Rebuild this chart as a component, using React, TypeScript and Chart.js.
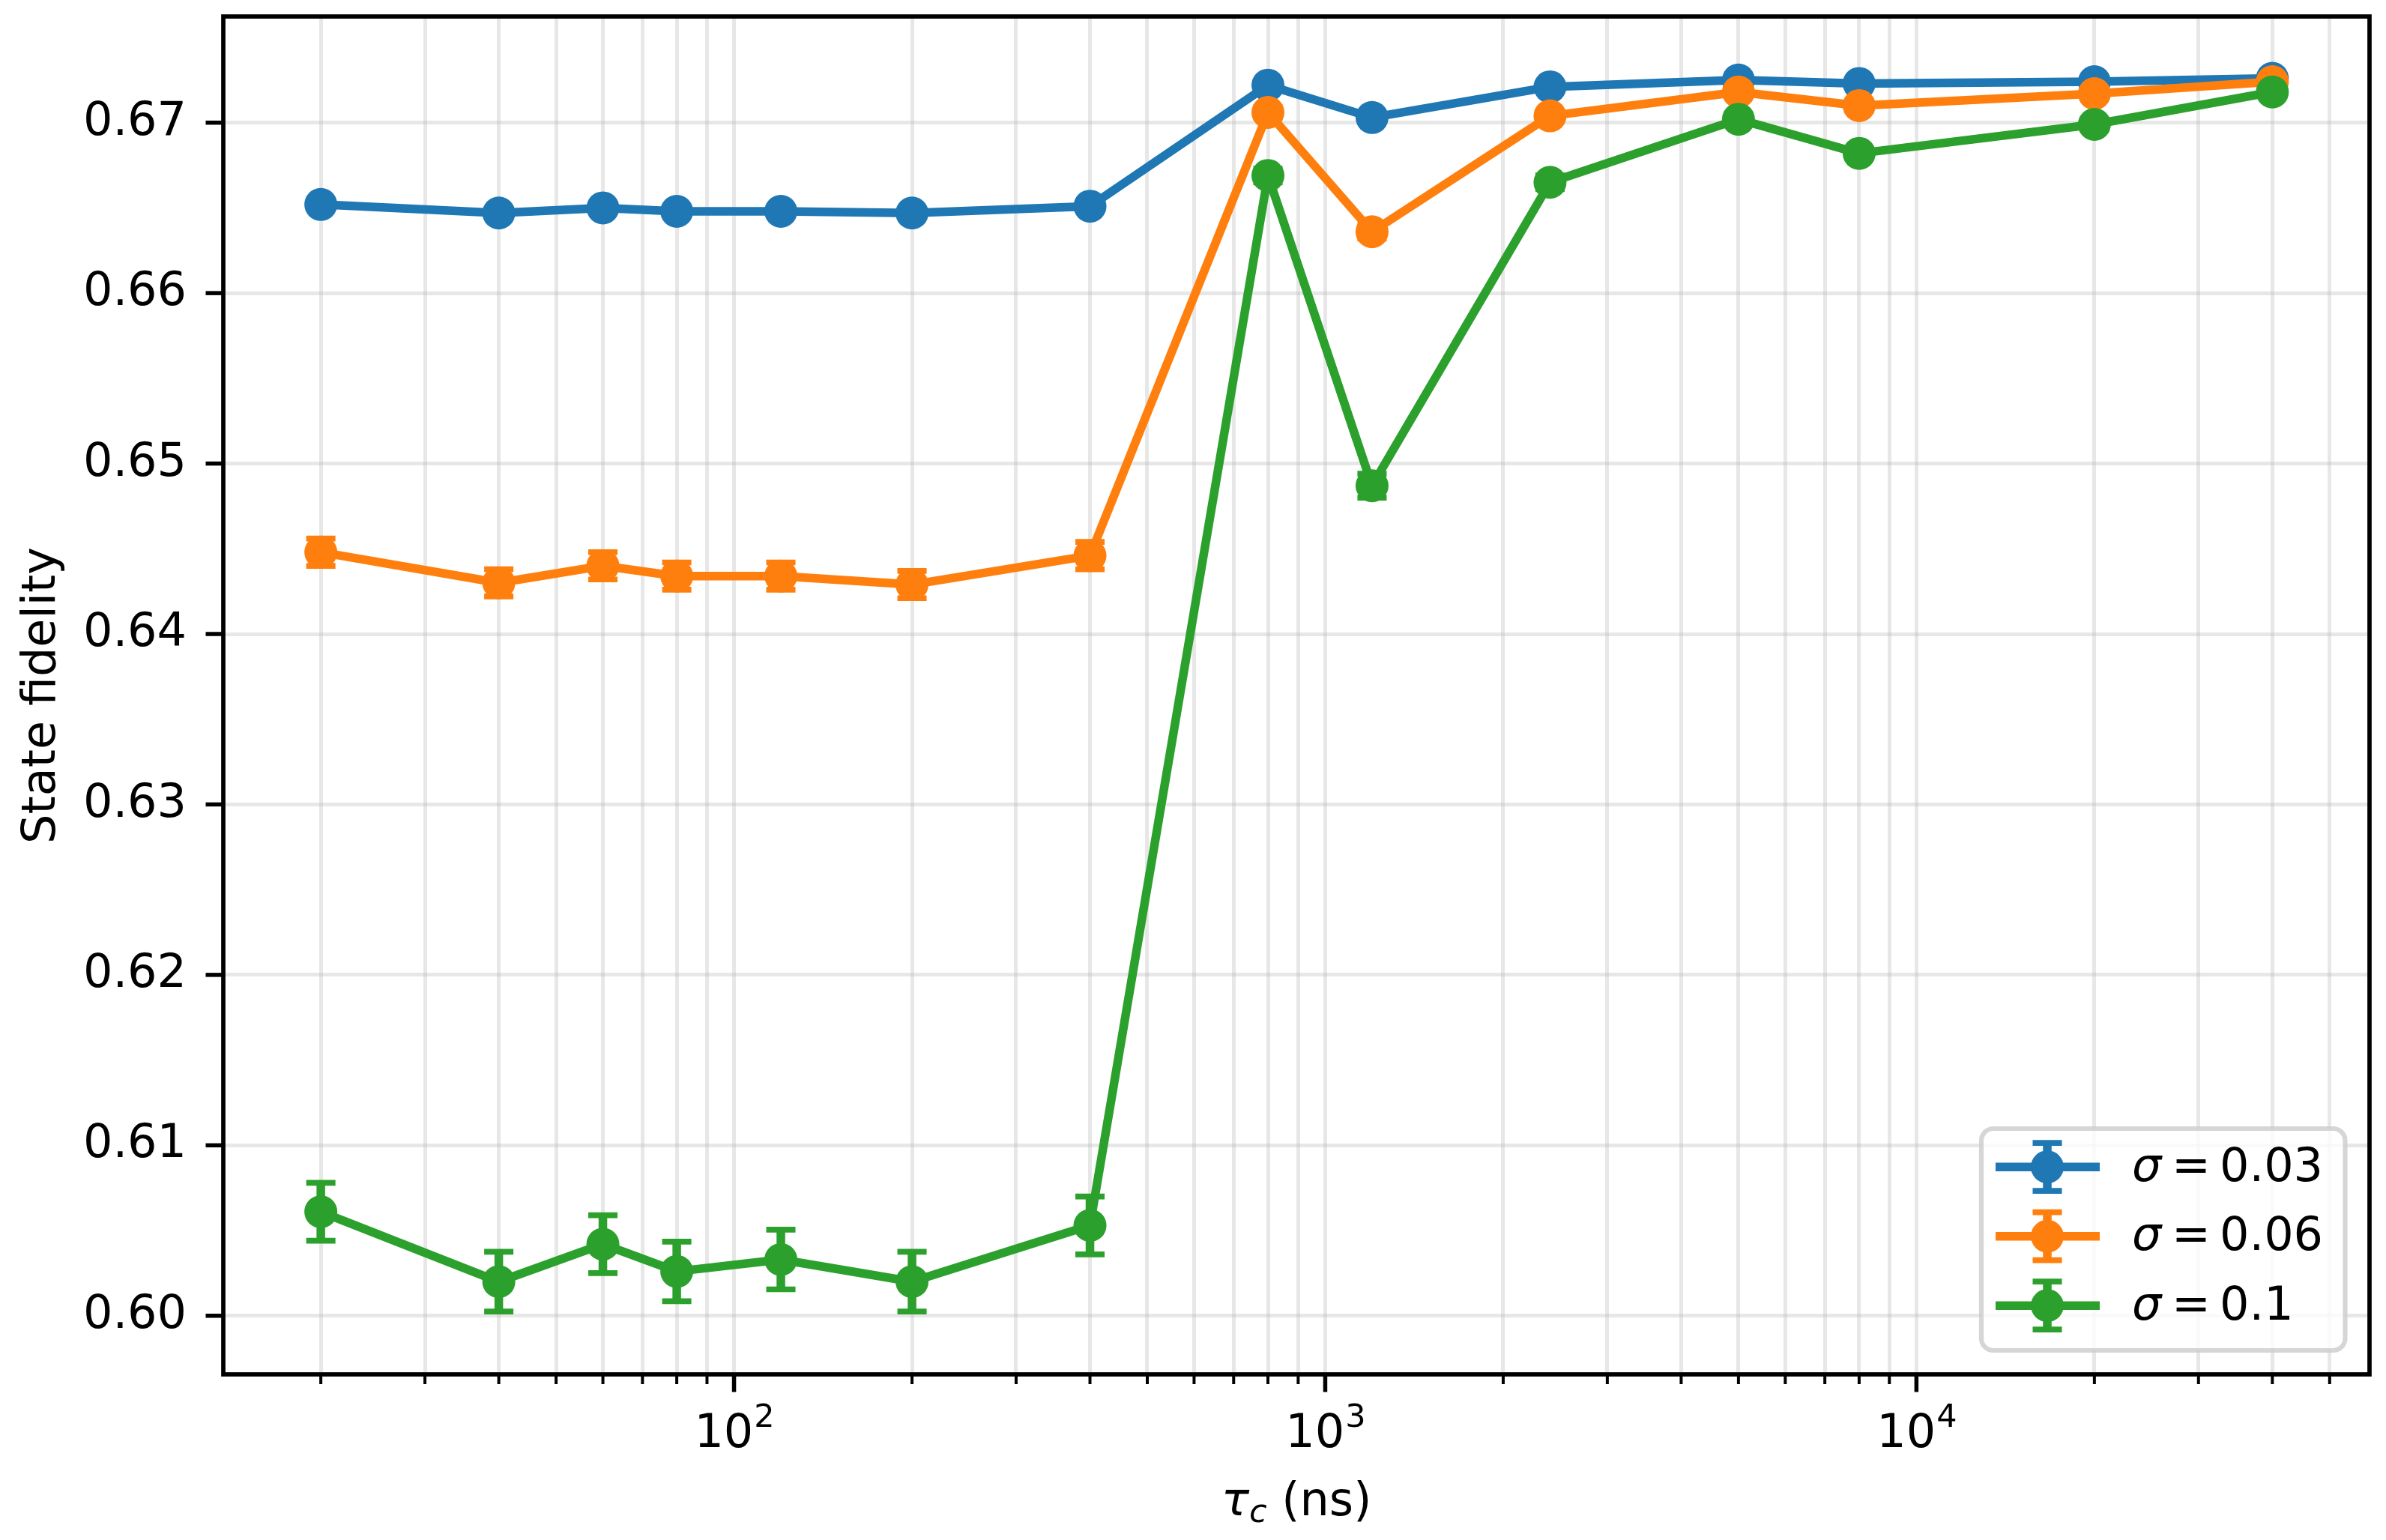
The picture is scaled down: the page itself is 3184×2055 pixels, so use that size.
import { useEffect, useRef } from "react";
import { Chart, registerables } from "chart.js";

Chart.register(...registerables);

// coherence time (ns) of each measured point
const tauC = [20, 40, 60, 80, 120, 200, 400, 800, 1200, 2400, 5000, 8000, 20000, 40000];

// state fidelity per noise strength
const fidSigma003 = [0.6652, 0.6647, 0.6650, 0.6648, 0.6648, 0.6647, 0.6651, 0.6722, 0.6703, 0.6721, 0.6725, 0.6723, 0.6724, 0.6726];
const fidSigma006 = [0.6448, 0.6430, 0.6440, 0.6434, 0.6434, 0.6429, 0.6446, 0.6706, 0.6636, 0.6704, 0.6718, 0.6710, 0.6717, 0.6724];
const fidSigma01 = [0.6061, 0.6020, 0.6042, 0.6026, 0.6033, 0.6020, 0.6053, 0.6669, 0.6487, 0.6665, 0.6702, 0.6682, 0.6699, 0.6718];

// error bar half-heights
const errSigma003 = [0.0002, 0.0002, 0.0002, 0.0002, 0.0002, 0.0002, 0.0002, 0.0002, 0.0002, 0.0002, 0.0002, 0.0002, 0.0002, 0.0002];
const errSigma006 = [0.0008, 0.0008, 0.0008, 0.0008, 0.0008, 0.0008, 0.0008, 0.0003, 0.0004, 0.0003, 0.0002, 0.0003, 0.0002, 0.0002];
const errSigma01 = [0.0017, 0.00175, 0.0017, 0.00175, 0.00175, 0.00175, 0.0017, 0.0004, 0.0007, 0.0004, 0.0003, 0.0003, 0.0003, 0.0002];

const sigmaLabels = ["0.03", "0.06", "0.1"];
const seriesColors = ["#1f77b4", "#ff7f0e", "#2ca02c"];

const yTicks = [0.6, 0.61, 0.62, 0.63, 0.64, 0.65, 0.66, 0.67];
const xMajorTicks = [100, 1000, 10000];
const xMinorTicks = [
    20, 30, 40, 50, 60, 70, 80, 90,
    200, 300, 400, 500, 600, 700, 800, 900,
    2000, 3000, 4000, 5000, 6000, 7000, 8000, 9000,
    20000, 30000, 40000, 50000,
];

const seriesValues = [fidSigma003, fidSigma006, fidSigma01];
const seriesErrors = [errSigma003, errSigma006, errSigma01];

const FONT = '"DejaVu Sans"';
const GRID = "rgba(176, 176, 176, 0.3)";
const LINE_W = 11.5;
const CAP_HALF = 19.5;
const CAP_W = 7.7;

const mplLook = {
    id: "mplLook",
    beforeDatasetDraw(chart, args) {
        const k = args.index;
        const { ctx } = chart;
        const xs = chart.scales.x;
        const ys = chart.scales.y;
        const vals = seriesValues[k];
        const errs = seriesErrors[k];
        ctx.save();
        ctx.strokeStyle = seriesColors[k];
        ctx.lineCap = "butt";
        tauC.forEach((t, i) => {
            const px = xs.getPixelForValue(t);
            const top = ys.getPixelForValue(vals[i] + errs[i]);
            const bot = ys.getPixelForValue(vals[i] - errs[i]);
            ctx.lineWidth = LINE_W;
            ctx.beginPath();
            ctx.moveTo(px, top);
            ctx.lineTo(px, bot);
            ctx.stroke();
            ctx.lineWidth = CAP_W;
            ctx.beginPath();
            ctx.moveTo(px - CAP_HALF, top);
            ctx.lineTo(px + CAP_HALF, top);
            ctx.moveTo(px - CAP_HALF, bot);
            ctx.lineTo(px + CAP_HALF, bot);
            ctx.stroke();
        });
        ctx.restore();
    },
    afterDatasetsDraw(chart) {
        const { ctx, chartArea: a } = chart;
        const xs = chart.scales.x;
        const ys = chart.scales.y;
        ctx.save();
        ctx.strokeStyle = "#000";
        ctx.lineCap = "butt";
        // tick marks
        xMinorTicks.forEach((v) => {
            const px = xs.getPixelForValue(v);
            ctx.lineWidth = 4;
            ctx.beginPath();
            ctx.moveTo(px, a.bottom);
            ctx.lineTo(px, a.bottom + 13);
            ctx.stroke();
        });
        xMajorTicks.forEach((v) => {
            const px = xs.getPixelForValue(v);
            ctx.lineWidth = 5.5;
            ctx.beginPath();
            ctx.moveTo(px, a.bottom);
            ctx.lineTo(px, a.bottom + 23.5);
            ctx.stroke();
        });
        yTicks.forEach((v) => {
            const py = ys.getPixelForValue(v);
            ctx.lineWidth = 5.5;
            ctx.beginPath();
            ctx.moveTo(a.left, py);
            ctx.lineTo(a.left - 23.5, py);
            ctx.stroke();
        });
        // spines
        ctx.lineWidth = 5.7;
        ctx.lineJoin = "miter";
        ctx.strokeRect(a.left, a.top, a.right - a.left, a.bottom - a.top);
        ctx.restore();
    },
    afterDraw(chart) {
        const { ctx, chartArea: a } = chart;
        const xs = chart.scales.x;
        ctx.save();
        ctx.fillStyle = "#000";
        ctx.textAlign = "left";
        ctx.textBaseline = "alphabetic";

        // x tick labels 10^n
        xMajorTicks.forEach((v) => {
            const px = xs.getPixelForValue(v);
            const exp = String(Math.round(Math.log10(v)));
            ctx.font = `62px ${FONT}`;
            const wBase = ctx.measureText("10").width;
            ctx.font = `43px ${FONT}`;
            const wExp = ctx.measureText(exp).width;
            const x0 = px - (wBase + wExp) / 2;
            ctx.font = `62px ${FONT}`;
            ctx.fillText("10", x0, a.bottom + 97);
            ctx.font = `43px ${FONT}`;
            ctx.fillText(exp, x0 + wBase + 1, a.bottom + 70);
        });

        // x axis title: tau_c (ns)
        const cx = (a.left + a.right) / 2;
        ctx.font = `italic 62px ${FONT}`;
        const wTau = ctx.measureText("τ").width;
        ctx.font = `italic 43px ${FONT}`;
        const wC = ctx.measureText("c").width;
        ctx.font = `62px ${FONT}`;
        const wRest = ctx.measureText(" (ns)").width;
        let tx = cx - (wTau + wC + wRest) / 2;
        ctx.font = `italic 62px ${FONT}`;
        ctx.fillText("τ", tx, a.bottom + 188);
        tx += wTau;
        ctx.font = `italic 43px ${FONT}`;
        ctx.fillText("c", tx, a.bottom + 197);
        tx += wC;
        ctx.font = `62px ${FONT}`;
        ctx.fillText(" (ns)", tx, a.bottom + 188);

        // legend
        const lx0 = a.right - 518;
        const ly0 = a.bottom - 328;
        const lw = 485.5;
        const lh = 296;
        ctx.beginPath();
        ctx.roundRect(lx0, ly0, lw, lh, 16);
        ctx.fillStyle = "rgba(255, 255, 255, 0.8)";
        ctx.fill();
        ctx.lineWidth = 6.2;
        ctx.strokeStyle = "rgba(204, 204, 204, 0.8)";
        ctx.stroke();

        sigmaLabels.forEach((lab, k) => {
            const rowY = ly0 + 51.2 + k * 92.5;
            const hx = lx0 + 19;
            const mx = hx + 69;
            ctx.strokeStyle = seriesColors[k];
            ctx.fillStyle = seriesColors[k];
            ctx.lineCap = "butt";
            ctx.lineWidth = LINE_W;
            ctx.beginPath();
            ctx.moveTo(hx, rowY);
            ctx.lineTo(hx + 139, rowY);
            ctx.moveTo(mx, rowY - 32);
            ctx.lineTo(mx, rowY + 32);
            ctx.stroke();
            ctx.lineWidth = CAP_W;
            ctx.beginPath();
            ctx.moveTo(mx - CAP_HALF, rowY - 32);
            ctx.lineTo(mx + CAP_HALF, rowY - 32);
            ctx.moveTo(mx - CAP_HALF, rowY + 32);
            ctx.lineTo(mx + CAP_HALF, rowY + 32);
            ctx.stroke();
            ctx.beginPath();
            ctx.arc(mx, rowY, 22, 0, Math.PI * 2);
            ctx.fill();

            ctx.fillStyle = "#000";
            const base = rowY + 18.5;
            const sx = lx0 + 201;
            ctx.font = `italic 62px ${FONT}`;
            ctx.fillText("σ", sx, base);
            ctx.font = `62px ${FONT}`;
            ctx.fillText("=", sx + 53, base);
            ctx.fillText(lab, sx + 117, base);
        });
        ctx.restore();
    },
};

export default function App() {
    const canvasRef = useRef<HTMLCanvasElement>(null);
    const chartRef = useRef<Chart | null>(null);

    useEffect(() => {
        const ctx = canvasRef.current?.getContext("2d");
        if (!ctx) return;
        chartRef.current = new Chart(ctx, {
            type: "line",
            data: {
                datasets: seriesValues.map((vals, k) => ({
                    label: `σ = ${sigmaLabels[k]}`,
                    data: tauC.map((t, i) => ({ x: t, y: vals[i] })),
                    borderColor: seriesColors[k],
                    backgroundColor: seriesColors[k],
                    pointBackgroundColor: seriesColors[k],
                    pointBorderWidth: 0,
                    pointRadius: 22,
                    borderWidth: LINE_W,
                    borderJoinStyle: "round",
                    tension: 0,
                    order: 3 - k,
                    clip: false,
                })),
            },
            options: {
                animation: false,
                responsive: false,
                devicePixelRatio: 1,
                events: [],
                layout: { padding: { top: 21, right: 21, left: 0, bottom: 0 } },
                plugins: {
                    legend: { display: false },
                    tooltip: { enabled: false },
                },
                scales: {
                    x: {
                        type: "logarithmic",
                        min: 13.68,
                        max: 58400,
                        afterBuildTicks: (s) => {
                            s.ticks = [...xMinorTicks, ...xMajorTicks]
                                .sort((p, q) => p - q)
                                .map((v) => ({ value: v, major: xMajorTicks.includes(v) }));
                        },
                        afterFit: (s) => {
                            s.height = 221;
                            s.paddingLeft = 0;
                            s.paddingRight = 0;
                        },
                        ticks: { display: false },
                        grid: { color: GRID, lineWidth: 5, drawTicks: false },
                        border: { display: false },
                    },
                    y: {
                        type: "linear",
                        min: 0.59656,
                        max: 0.67623,
                        afterBuildTicks: (s) => {
                            s.ticks = yTicks.map((v) => ({ value: v }));
                        },
                        afterFit: (s) => {
                            s.width = 298;
                            s.paddingTop = 0;
                            s.paddingBottom = 0;
                        },
                        ticks: {
                            autoSkip: false,
                            padding: 49,
                            color: "#000",
                            font: { family: FONT, size: 62 },
                            callback: (v) => Number(v).toFixed(2),
                        },
                        grid: { color: GRID, lineWidth: 5, drawTicks: false },
                        border: { display: false },
                        title: {
                            display: true,
                            text: "State fidelity",
                            color: "#000",
                            font: { family: FONT, size: 62, lineHeight: 1.2 },
                            padding: { top: 20, bottom: 0 },
                        },
                    },
                },
            },
            plugins: [mplLook],
        });
        return () => {
            chartRef.current?.destroy();
            chartRef.current = null;
        };
    }, []);

    return (
        <div style={{ position: "absolute", left: 0, top: 0, width: 3184, height: 2055, background: "#fff" }}>
            <canvas ref={canvasRef} width={3184} height={2055} />
        </div>
    );
}
